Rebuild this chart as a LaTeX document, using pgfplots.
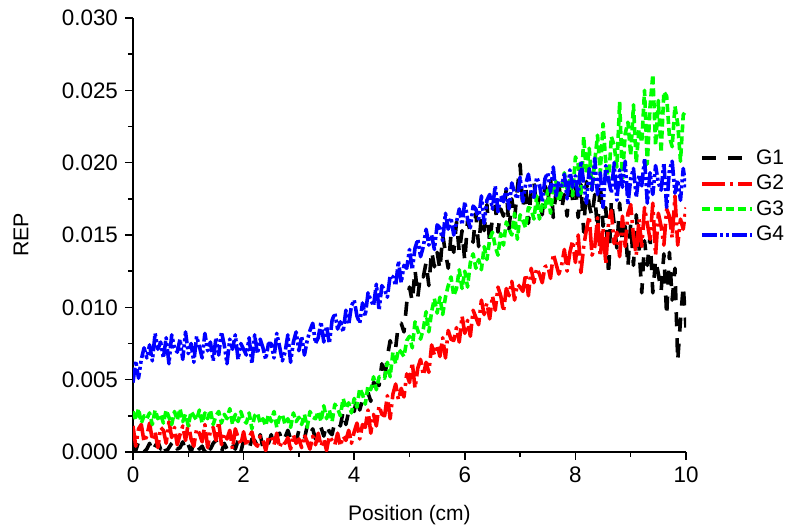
\documentclass[border=0pt]{standalone}
\usepackage{pgfplots}
\pgfplotsset{compat=1.18}
\usepackage{pgfplotstable}
\usepackage{fontspec}
\setmainfont{Liberation Sans}

\pgfplotstableread{
x g1 g2 g3 g4
0.00 0.0005 0.0018 0.0028 0.0048
0.05 0.0001 0.0004 0.0022 0.0063
0.10 0.0007 0.0016 0.0030 0.0051
0.15 0.0004 0.0019 0.0020 0.0064
0.20 0.0000 0.0007 0.0025 0.0072
0.25 0.0002 0.0011 0.0023 0.0065
0.30 0.0006 0.0020 0.0027 0.0074
0.35 0.0000 0.0008 0.0019 0.0063
0.40 0.0004 0.0014 0.0029 0.0082
0.45 0.0007 0.0003 0.0023 0.0071
0.50 0.0002 0.0017 0.0026 0.0076
0.55 0.0006 0.0015 0.0020 0.0065
0.60 0.0000 0.0006 0.0029 0.0079
0.65 0.0003 0.0021 0.0024 0.0061
0.70 0.0006 0.0010 0.0019 0.0081
0.75 0.0008 0.0017 0.0028 0.0072
0.80 0.0002 0.0005 0.0022 0.0069
0.85 0.0003 0.0012 0.0030 0.0078
0.90 0.0007 0.0018 0.0021 0.0064
0.95 0.0001 0.0008 0.0026 0.0083
1.00 0.0005 0.0020 0.0018 0.0068
1.05 0.0000 0.0009 0.0028 0.0075
1.10 0.0006 0.0004 0.0025 0.0062
1.15 0.0007 0.0016 0.0022 0.0080
1.20 0.0002 0.0013 0.0029 0.0073
1.25 0.0004 0.0007 0.0020 0.0065
1.30 0.0000 0.0019 0.0027 0.0082
1.35 0.0006 0.0003 0.0023 0.0070
1.40 0.0002 0.0015 0.0029 0.0076
1.45 0.0006 0.0017 0.0019 0.0063
1.50 0.0008 0.0008 0.0025 0.0079
1.55 0.0003 0.0021 0.0028 0.0067
1.60 0.0000 0.0005 0.0020 0.0083
1.65 0.0006 0.0013 0.0026 0.0074
1.70 0.0002 0.0009 0.0023 0.0061
1.75 0.0007 0.0015 0.0030 0.0078
1.80 0.0005 0.0002 0.0019 0.0071
1.85 0.0002 0.0016 0.0026 0.0081
1.90 0.0008 0.0010 0.0021 0.0064
1.95 0.0000 0.0005 0.0028 0.0075
2.00 0.0008 0.0014 0.0022 0.0071
2.05 0.0005 0.0004 0.0020 0.0067
2.10 0.0002 0.0010 0.0027 0.0079
2.15 0.0009 0.0014 0.0016 0.0061
2.20 0.0008 0.0006 0.0025 0.0081
2.25 0.0004 0.0004 0.0027 0.0068
2.30 0.0012 0.0011 0.0020 0.0078
2.35 0.0003 0.0008 0.0023 0.0072
2.40 0.0008 0.0001 0.0018 0.0064
2.45 0.0006 0.0010 0.0026 0.0075
2.50 0.0012 0.0011 0.0021 0.0075
2.55 0.0004 0.0005 0.0028 0.0065
2.60 0.0011 0.0013 0.0017 0.0082
2.65 0.0013 0.0003 0.0024 0.0073
2.70 0.0007 0.0008 0.0026 0.0063
2.75 0.0010 0.0006 0.0019 0.0069
2.80 0.0015 0.0010 0.0023 0.0081
2.85 0.0009 0.0002 0.0017 0.0062
2.90 0.0012 0.0012 0.0027 0.0076
2.95 0.0007 0.0006 0.0021 0.0083
3.00 0.0015 0.0009 0.0024 0.0070
3.05 0.0014 0.0003 0.0019 0.0080
3.10 0.0009 0.0012 0.0026 0.0067
3.15 0.0018 0.0007 0.0017 0.0077
3.20 0.0012 0.0002 0.0028 0.0084
3.25 0.0016 0.0011 0.0024 0.0089
3.30 0.0009 0.0005 0.0023 0.0075
3.35 0.0013 0.0013 0.0028 0.0079
3.40 0.0017 0.0004 0.0021 0.0090
3.45 0.0011 0.0009 0.0032 0.0076
3.50 0.0019 0.0001 0.0023 0.0087
3.55 0.0014 0.0011 0.0029 0.0075
3.60 0.0012 0.0008 0.0021 0.0091
3.65 0.0021 0.0005 0.0033 0.0096
3.70 0.0021 0.0013 0.0030 0.0085
3.75 0.0018 0.0004 0.0025 0.0090
3.80 0.0028 0.0011 0.0037 0.0083
3.85 0.0019 0.0008 0.0030 0.0098
3.90 0.0028 0.0015 0.0034 0.0088
3.95 0.0032 0.0006 0.0027 0.0101
4.00 0.0028 0.0014 0.0037 0.0105
4.05 0.0038 0.0020 0.0031 0.0094
4.10 0.0029 0.0009 0.0044 0.0089
4.15 0.0036 0.0019 0.0040 0.0103
4.20 0.0035 0.0017 0.0033 0.0094
4.25 0.0041 0.0029 0.0046 0.0110
4.30 0.0035 0.0013 0.0043 0.0105
4.35 0.0048 0.0026 0.0052 0.0101
4.40 0.0047 0.0018 0.0043 0.0116
4.45 0.0046 0.0032 0.0052 0.0098
4.50 0.0061 0.0026 0.0052 0.0115
4.55 0.0050 0.0025 0.0051 0.0112
4.60 0.0066 0.0039 0.0062 0.0107
4.65 0.0077 0.0023 0.0052 0.0122
4.70 0.0070 0.0040 0.0069 0.0121
4.75 0.0072 0.0047 0.0061 0.0115
4.80 0.0089 0.0036 0.0071 0.0132
4.85 0.0089 0.0044 0.0069 0.0117
4.90 0.0083 0.0038 0.0066 0.0129
4.95 0.0103 0.0054 0.0077 0.0127
5.00 0.0114 0.0048 0.0080 0.0140
5.05 0.0104 0.0062 0.0072 0.0126
5.10 0.0126 0.0044 0.0090 0.0141
5.15 0.0107 0.0058 0.0084 0.0147
5.20 0.0123 0.0064 0.0078 0.0135
5.25 0.0121 0.0053 0.0085 0.0142
5.30 0.0131 0.0062 0.0097 0.0154
5.35 0.0115 0.0055 0.0083 0.0143
5.40 0.0139 0.0074 0.0097 0.0150
5.45 0.0128 0.0067 0.0106 0.0140
5.50 0.0138 0.0074 0.0096 0.0157
5.55 0.0126 0.0066 0.0107 0.0155
5.60 0.0150 0.0079 0.0095 0.0146
5.65 0.0138 0.0065 0.0107 0.0165
5.70 0.0127 0.0084 0.0115 0.0154
5.75 0.0150 0.0078 0.0121 0.0162
5.80 0.0138 0.0077 0.0108 0.0150
5.85 0.0159 0.0086 0.0113 0.0159
5.90 0.0138 0.0076 0.0126 0.0168
5.95 0.0153 0.0094 0.0113 0.0157
6.00 0.0132 0.0082 0.0125 0.0173
6.05 0.0160 0.0091 0.0114 0.0161
6.10 0.0152 0.0080 0.0131 0.0155
6.15 0.0145 0.0098 0.0137 0.0170
6.20 0.0165 0.0093 0.0127 0.0168
6.25 0.0142 0.0088 0.0133 0.0161
6.30 0.0163 0.0105 0.0126 0.0177
6.35 0.0153 0.0095 0.0142 0.0158
6.40 0.0171 0.0103 0.0133 0.0174
6.45 0.0144 0.0092 0.0147 0.0178
6.50 0.0162 0.0108 0.0152 0.0168
6.55 0.0170 0.0098 0.0142 0.0184
6.60 0.0152 0.0114 0.0136 0.0166
6.65 0.0168 0.0108 0.0151 0.0177
6.70 0.0163 0.0097 0.0143 0.0173
6.75 0.0182 0.0113 0.0159 0.0182
6.80 0.0154 0.0108 0.0154 0.0168
6.85 0.0175 0.0118 0.0150 0.0186
6.90 0.0161 0.0105 0.0165 0.0179
6.95 0.0182 0.0116 0.0147 0.0175
7.00 0.0199 0.0114 0.0164 0.0190
7.05 0.0168 0.0111 0.0160 0.0173
7.10 0.0185 0.0123 0.0155 0.0185
7.15 0.0158 0.0108 0.0169 0.0192
7.20 0.0181 0.0127 0.0168 0.0179
7.25 0.0187 0.0117 0.0161 0.0176
7.30 0.0168 0.0127 0.0177 0.0190
7.35 0.0176 0.0123 0.0161 0.0185
7.40 0.0164 0.0117 0.0171 0.0173
7.45 0.0184 0.0128 0.0169 0.0189
7.50 0.0172 0.0129 0.0181 0.0193
7.55 0.0190 0.0120 0.0165 0.0180
7.60 0.0162 0.0137 0.0181 0.0197
7.65 0.0180 0.0130 0.0187 0.0177
7.70 0.0186 0.0123 0.0173 0.0187
7.75 0.0168 0.0129 0.0180 0.0184
7.80 0.0178 0.0140 0.0193 0.0192
7.85 0.0163 0.0125 0.0181 0.0175
7.90 0.0189 0.0138 0.0189 0.0195
7.95 0.0174 0.0146 0.0177 0.0183
8.00 0.0183 0.0131 0.0204 0.0191
8.05 0.0162 0.0150 0.0199 0.0176
8.10 0.0185 0.0124 0.0177 0.0201
8.15 0.0152 0.0142 0.0218 0.0186
8.20 0.0187 0.0154 0.0192 0.0172
8.25 0.0170 0.0163 0.0210 0.0196
8.30 0.0163 0.0136 0.0181 0.0181
8.35 0.0178 0.0142 0.0201 0.0203
8.40 0.0153 0.0162 0.0219 0.0178
8.45 0.0186 0.0135 0.0193 0.0193
8.50 0.0156 0.0155 0.0227 0.0169
8.55 0.0169 0.0130 0.0200 0.0198
8.60 0.0122 0.0159 0.0187 0.0188
8.65 0.0174 0.0167 0.0218 0.0179
8.70 0.0158 0.0144 0.0212 0.0200
8.75 0.0141 0.0152 0.0197 0.0174
8.80 0.0172 0.0135 0.0242 0.0195
8.85 0.0145 0.0163 0.0189 0.0183
8.90 0.0156 0.0142 0.0220 0.0201
8.95 0.0128 0.0165 0.0228 0.0171
9.00 0.0158 0.0171 0.0205 0.0189
9.05 0.0129 0.0149 0.0240 0.0196
9.10 0.0164 0.0136 0.0200 0.0176
9.15 0.0142 0.0161 0.0223 0.0191
9.20 0.0110 0.0142 0.0214 0.0184
9.25 0.0146 0.0169 0.0250 0.0203
9.30 0.0129 0.0158 0.0199 0.0172
9.35 0.0149 0.0147 0.0239 0.0193
9.40 0.0110 0.0172 0.0261 0.0178
9.45 0.0133 0.0136 0.0212 0.0198
9.50 0.0123 0.0165 0.0243 0.0186
9.55 0.0111 0.0156 0.0207 0.0181
9.60 0.0137 0.0143 0.0249 0.0200
9.65 0.0094 0.0168 0.0246 0.0169
9.70 0.0138 0.0163 0.0218 0.0195
9.75 0.0105 0.0148 0.0211 0.0201
9.80 0.0127 0.0177 0.0239 0.0179
9.85 0.0063 0.0143 0.0227 0.0188
9.90 0.0091 0.0161 0.0201 0.0174
9.95 0.0115 0.0154 0.0233 0.0196
10.00 0.0086 0.0169 0.0236 0.0182
}\datatable

\begin{document}
\begin{tikzpicture}
\useasboundingbox (-66.5pt,-38pt) rectangle (326.5pt,226pt);
\begin{axis}[
  at={(0pt,0pt)}, anchor=south west,
  width=276.5pt, height=217pt, scale only axis,
  xmin=0, xmax=10, ymin=0, ymax=0.030,
  axis lines=left,
  axis line style={-, line width=0.75pt},
  tick style={line width=0.75pt, black},
  tick align=outside,
  major tick length=4pt, minor tick length=2.5pt,
  xtick={0,2,4,6,8,10},
  ytick={0,0.005,0.010,0.015,0.020,0.025,0.030},
  minor tick num=1,
  scaled y ticks=false,
  yticklabel style={/pgf/number format/.cd, fixed, fixed zerofill, precision=3, /tikz/.cd},
  /pgf/number format/assume math mode=true,
  tick label style={font=\fontsize{11.2}{13}\selectfont},
  xlabel={Position (cm)}, ylabel={REP},
  xlabel style={font=\fontsize{10.5}{12.6}\selectfont, at={(axis description cs:0.5,-0.1452)}, anchor=center},
  ylabel style={font=\fontsize{10.7}{12.8}\selectfont, at={(axis description cs:-0.2025,0.5)}, anchor=center},
  legend style={draw=none, fill=none, inner sep=0pt, at={(axis description cs:1.0253,0.5887)}, anchor=west,
    font=\fontsize{10.5}{12.6}\selectfont, row sep=0.75pt,
    nodes={inner sep=1pt, text height=8pt, text depth=2pt}},
  legend cell align=left,
  legend image code/.code={\draw[#1] (0pt,0pt) -- (25pt,0pt);},
  every axis plot/.append style={line width=1.8pt, line join=round},
]
\addplot[black, dash pattern=on 7pt off 6pt] table[x=x,y=g1]{\datatable};
\addlegendentry{G1}
\addplot[red, dash pattern=on 11.5pt off 2.5pt on 1.5pt off 2.5pt] table[x=x,y=g2]{\datatable};
\addlegendentry{G2}
\addplot[green, dash pattern=on 4pt off 2pt] table[x=x,y=g3]{\datatable};
\addlegendentry{G3}
\addplot[blue, dash pattern=on 7.5pt off 1.5pt on 1.5pt off 1.5pt on 1.5pt off 1.5pt] table[x=x,y=g4]{\datatable};
\addlegendentry{G4}
\end{axis}
\end{tikzpicture}
\end{document}
